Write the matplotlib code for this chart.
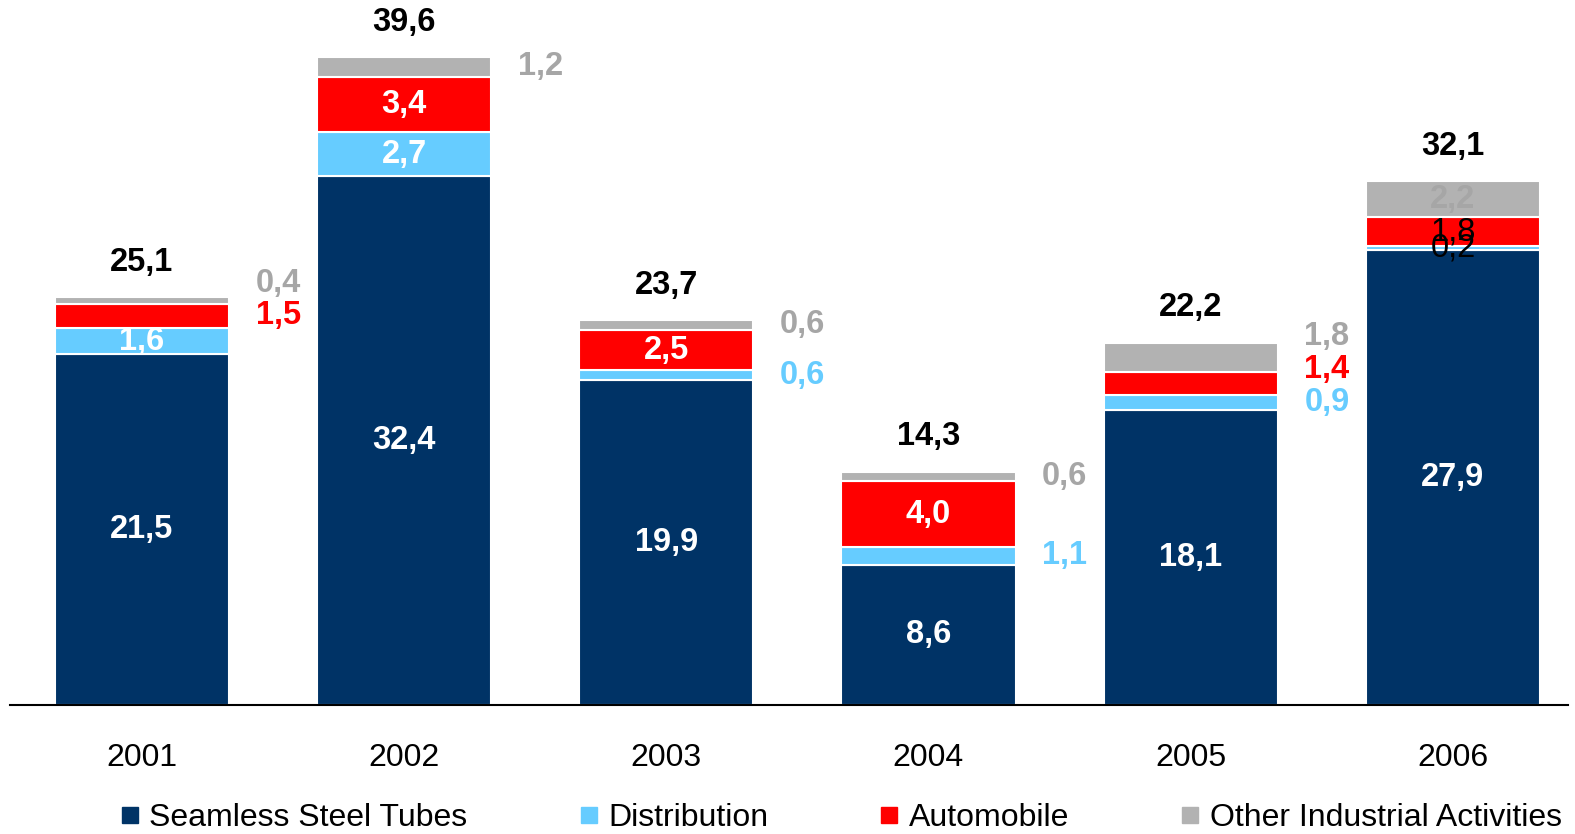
import matplotlib.pyplot as plt
from matplotlib.lines import Line2D

plt.rcParams['font.family'] = ['Liberation Sans', 'DejaVu Sans']

# Revenue by segment and year
years = ['2001', '2002', '2003', '2004', '2005', '2006']
seamless = [21.5, 32.4, 19.9, 8.6, 18.1, 27.9]
distribution = [1.6, 2.7, 0.6, 1.1, 0.9, 0.2]
automobile = [1.5, 3.4, 2.5, 4.0, 1.4, 1.8]
other = [0.4, 1.2, 0.6, 0.6, 1.8, 2.2]
totals = [25.1, 39.6, 23.7, 14.3, 22.2, 32.1]

segments = ['Seamless Steel Tubes', 'Distribution', 'Automobile', 'Other Industrial Activities']
series = [seamless, distribution, automobile, other]
colors = ['#003366', '#66CCFF', '#FF0000', '#B2B2B2']
label_colors = ['white', '#66CCFF', '#FF0000', '#A6A6A6']

# where each segment label goes: 'in' white, 'out' to the right, 'dark' black normal
label_mode = {
    0: ['in', 'in', 'out', 'out'],
    1: ['in', 'in', 'in', 'out'],
    2: ['in', 'out', 'in', 'out'],
    3: ['in', 'out', 'in', 'out'],
    4: ['in', 'out', 'out', 'out'],
    5: ['in', 'dark', 'dark', 'gray_in'],
}

def fmt(v):
    return f'{v:.1f}'.replace('.', ',')

fig = plt.figure(figsize=(15.75, 8.34), dpi=100)
ax = fig.add_axes([10 / 1575, (834 - 705) / 834, 1558 / 1575, 705 / 834])

x = list(range(len(years)))
width = 0.664
bottoms = [0.0] * len(years)
for vals, col in zip(series, colors):
    ax.bar(x, vals, width, bottom=bottoms, color=col, edgecolor='white', linewidth=1.5)
    bottoms = [b + v for b, v in zip(bottoms, vals)]

ax.set_xlim(-0.503, 5.439)
ax.set_ylim(0, 43.2)

fs = 23.5
for i in x:
    base = 0.0
    centers = []
    for s, vals in enumerate(series):
        centers.append(base + vals[i] / 2)
        base += vals[i]
    # totals above the bars
    ax.annotate(fmt(totals[i]), (i, base), xytext=(0, 25), textcoords='offset points',
                ha='center', va='center', fontsize=fs, fontweight='bold', color='black')

    # outside labels, pushed apart from the bottom up
    last_y = None
    for s, mode in enumerate(label_mode[i]):
        v = series[s][i]
        if mode == 'in':
            ax.text(i, centers[s], fmt(v), ha='center', va='center', fontsize=fs,
                    fontweight='bold', color='white')
        elif mode == 'gray_in':
            ax.text(i, centers[s], fmt(v), ha='center', va='center', fontsize=fs,
                    fontweight='bold', color='#A6A6A6')
        elif mode == 'dark':
            ax.text(i, centers[s], fmt(v), ha='center', va='center', fontsize=fs,
                    color='black')
        else:
            y = centers[s]
            if last_y is not None and y < last_y + 2.0:
                y = last_y + 2.0
            last_y = y
            ax.text(i + 0.52, y, fmt(v), ha='center', va='center', fontsize=fs,
                    fontweight='bold', color=label_colors[s])

for side in ['top', 'right', 'left']:
    ax.spines[side].set_visible(False)
ax.spines['bottom'].set_linewidth(1.5)
ax.set_yticks([])
ax.set_xticks(x)
ax.set_xticklabels(years, fontsize=23)
ax.tick_params(axis='x', length=0, pad=27)

handles = [Line2D([], [], marker='s', linestyle='none', markersize=11.5,
                  markerfacecolor=c, markeredgecolor=c) for c in colors]
fig.legend(handles, segments, loc='center', bbox_to_anchor=(0.534, 0.019), ncol=4,
           frameon=False, fontsize=23, handlelength=0.6, handletextpad=0.3,
           columnspacing=3.5, borderpad=0)

fig.savefig('out.png', dpi=100)
